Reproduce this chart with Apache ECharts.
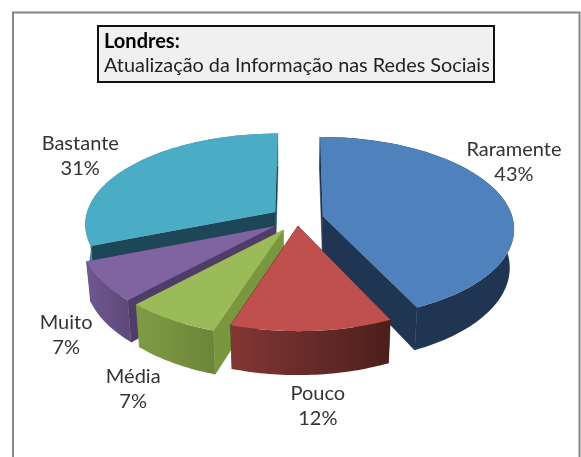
<!DOCTYPE html>
<html><head><meta charset="utf-8">
<style>html,body{margin:0;padding:0;background:#fff}#c{width:581px;height:457px}</style>
<script src="https://cdn.jsdelivr.net/npm/echarts@6/dist/echarts.min.js"></script>
</head><body><div id="c"></div>
<script>
const categories = ['Raramente', 'Pouco', 'Média', 'Muito', 'Bastante'];
const percentages = [43, 12, 7, 7, 31];
const titleLines = ['Londres:', 'Atualização da Informação nas Redes Sociais'];

// slice styling (same order as categories)
const topColors  = ['#4F81BD', '#C0504D', '#9BBB59', '#8064A2', '#4BACC6'];
const wallColors = ['#1F3552', '#4b1f1c', '#7A963F', '#503C68', '#1D4656'];
const rimFrom    = ['#1F3552', '#833634', '#7F9B47', '#6F5890', '#3A8BA5'];
const rimTo      = ['#1F3552', '#4B1F1C', '#6C8538', '#5D4878', '#3A8BA5'];
const explosion  = [1, 0.55, 1, 1, 1];
const paintOrder = [1, 4, 3, 2, 0];            // back to front rank per slice
const labelNudge = [[12,-35],[6,75],[-38,69],[-36,53],[-51,-10]];

// projection of the tilted disc
const view = {cx:297, cy:219, a:190, b:90, k:0.126, depth:38, shrink:0.98, explode:0.14};
function project(X, Y, low) {
  const s = 1 / (1 + view.k * Y);
  let x = view.cx + view.a * X * s, y = view.cy - view.b * Y * s;
  if (low) { x = view.cx + (x - view.cx) * view.shrink; y += view.depth * s; }
  return [x, y];
}

const total = percentages.reduce((p, v) => p + v, 0);
const spans = []; let acc = 0;
percentages.forEach(v => { spans.push([acc / total * 2 * Math.PI, (acc + v) / total * 2 * Math.PI]); acc += v; });

function renderSlice(params) {
  const i = params.dataIndex, [t0, t1] = spans[i], m = (t0 + t1) / 2;
  const e = view.explode * explosion[i];
  const ox = e * Math.sin(m), oy = e * Math.cos(m);
  const pt = (t, low) => project(ox + Math.sin(t), oy + Math.cos(t), low);
  const apex = low => project(ox, oy, low);
  const n = Math.max(8, Math.ceil((t1 - t0) / 0.02));
  const upper = [], lower = [];
  for (let j = 0; j <= n; j++) {
    const t = t0 + (t1 - t0) * j / n;
    upper.push(pt(t, false)); lower.push(pt(t, true));
  }
  const base = paintOrder[i] * 10;
  const wall = t => ({
    type: 'polygon', z2: base + 1,
    shape: {points: [apex(false), pt(t, false), pt(t, true), apex(true)]},
    style: {fill: wallColors[i], stroke: wallColors[i], lineWidth: 0.5}
  });
  const rim = {
    type: 'polygon', z2: base + 2,
    shape: {points: upper.concat(lower.slice().reverse())},
    style: {fill: new echarts.graphic.LinearGradient(0, 0, 1, 0, [
      {offset: 0, color: rimFrom[i]},
      {offset: 1, color: rimTo[i]}
    ])}
  };
  const top = {
    type: 'polygon', z2: base + 3,
    shape: {points: [apex(false)].concat(upper)},
    style: {fill: topColors[i]}
  };
  const mid = project(ox + Math.sin(m), oy + Math.cos(m), false);
  const label = {
    type: 'text', z2: 100,
    style: {
      text: categories[i] + '\n' + percentages[i] + '%',
      x: mid[0] + labelNudge[i][0], y: mid[1] + labelNudge[i][1],
      align: 'center', verticalAlign: 'middle',
      fontFamily: 'Lato', fontSize: 20, lineHeight: 25, fill: '#333'
    }
  };
  return {type: 'group', children: [wall(t0), wall(t1), rim, top, label]};
}

const chart = echarts.init(document.getElementById('c'), null, {renderer: 'canvas'});
chart.setOption({
  animation: false,
  backgroundColor: '#fff',
  title: {
    left: 98, top: 24, padding: [6, 5, 6, 6],
    backgroundColor: '#F0F0F0', borderColor: '#111', borderWidth: 2,
    text: '{b|' + titleLines[0] + '}\n{n|' + titleLines[1] + '}',
    textStyle: {
      fontWeight: 'normal',
      rich: {
        b: {fontFamily: 'Lato', fontWeight: 'bold', fontSize: 20, lineHeight: 23, color: '#000', width: 385},
        n: {fontFamily: 'Lato', fontWeight: 'normal', fontSize: 19.85, lineHeight: 26, color: '#222', width: 385}
      }
    }
  },
  graphic: [{
    type: 'polyline', silent: true,
    shape: {points: [[13, 457], [13, 12.5], [579.5, 12.5], [579.5, 457]]},
    style: {stroke: '#868686', lineWidth: 2, fill: 'none'}
  }],
  series: [{
    type: 'custom', coordinateSystem: 'none', silent: true,
    data: percentages, renderItem: renderSlice
  }]
});
</script></body></html>
